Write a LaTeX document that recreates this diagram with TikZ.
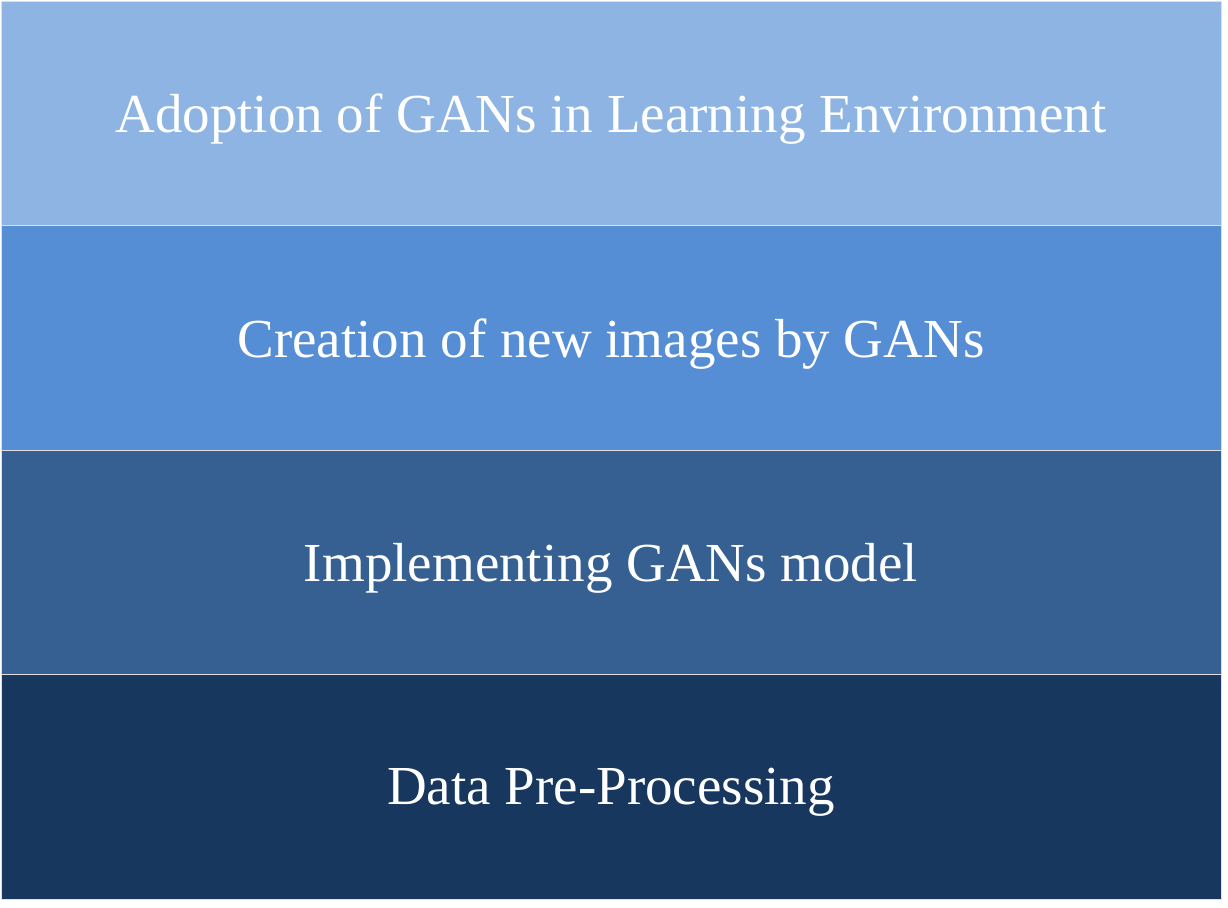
\documentclass[tikz,border=0pt]{standalone}
\usepackage{fontspec}
\setmainfont{Liberation Serif}
\usepackage{tikz}

\definecolor{layerone}{HTML}{8EB4E3}
\definecolor{layertwo}{HTML}{558ED5}
\definecolor{layerthree}{HTML}{376092}
\definecolor{layerfour}{HTML}{17375E}

\tikzset{
  layer/.style={draw=white!75!gray, line width=0.8pt, text=white,
    minimum width=1220pt, minimum height=224.5pt, inner sep=0pt,
    text depth=0pt, font=\fontsize{55}{64}\selectfont}
}

\begin{document}
\begin{tikzpicture}[x=1pt,y=-1pt]
        \useasboundingbox (0,0) rectangle (1228,907);
        \node[layer, fill=layerone]   (adoption)  at (611,113.25) {Adoption of GANs in Learning Environment};
        \node[layer, fill=layertwo]   (creation)  at (611,337.75) {Creation of new images by GANs};
        \node[layer, fill=layerthree] (implement) at (611,562.25) {Implementing GANs model};
        \node[layer, fill=layerfour]  (data)      at (611,786.75) {Data Pre-Processing};
      \end{tikzpicture}
\end{document}
